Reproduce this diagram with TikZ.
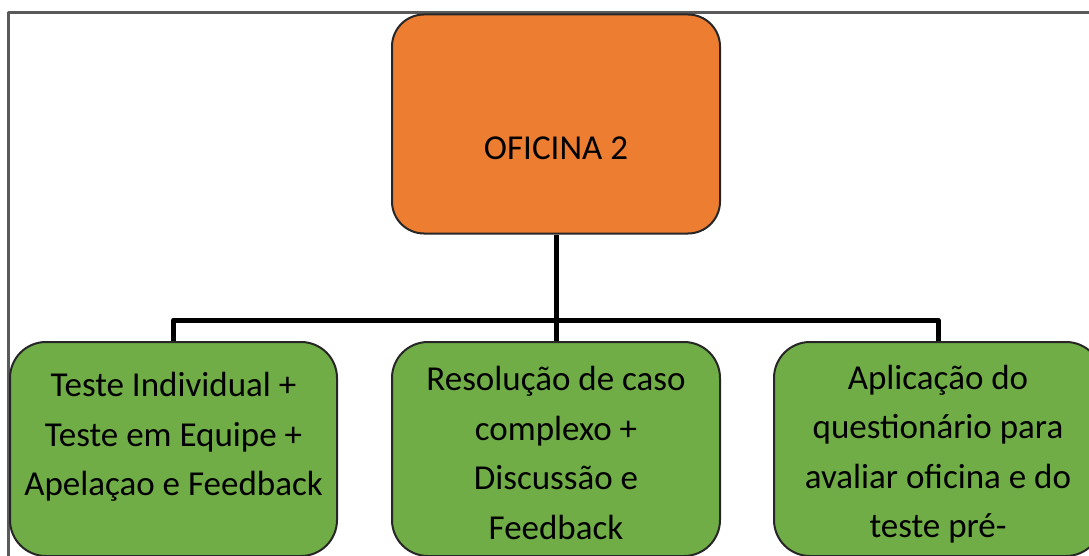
\documentclass[tikz,border=0pt]{standalone}
\usepackage{fontspec}
\setmainfont{Carlito}
\definecolor{oforange}{HTML}{ED7D31}
\definecolor{ofgreen}{HTML}{70AD47}
\definecolor{framegray}{HTML}{5A5A5A}
\begin{document}
\begin{tikzpicture}[x=1pt,y=-1pt, line join=round,
	obox/.style={draw=black!85, line width=2pt, fill=oforange, rounded corners=32pt, minimum width=328pt, minimum height=219pt, inner sep=0pt},
	gbox/.style={draw=black!85, line width=2pt, fill=ofgreen, rounded corners=36pt, minimum height=214pt, inner sep=0pt},
	gtext/.style={align=center, inner sep=0pt, font=\fontsize{35}{49.5}\selectfont},
	conn/.style={draw=black, line width=5pt}]
	\useasboundingbox (0,0) rectangle (1089,556);
	\clip (0,0) rectangle (1089,556);
	\draw[framegray, line width=3pt] (8,13) rectangle (1120,600);
	% top box
	\node[obox] (oficina) at (556,124) {};
	\node[font=\fontsize{35}{42}\selectfont] (oficinatxt) at (556,148) {OFICINA 2};
	% connectors
	\coordinate (bus) at (556,320);
	\draw[conn] (oficina.south) -- (bus);
	% bottom boxes
	\node[gbox, minimum width=327pt] (teste) at (173.5,449) {};
	\node[gbox, minimum width=328pt] (caso) at (556,449) {};
	\node[gbox, minimum width=328pt] (aplic) at (938,449) {};
	\node[gtext] (testetxt) at (173.5,437) {Teste Individual +\\Teste em Equipe +\\Apelaçao e Feedback};
	\node[gtext] (casotxt) at (556,453) {Resolução de caso\\complexo +\\Discussão e\\Feedback};
	\node[gtext] (aplictxt) at (938,454) {Aplicação do\\questionário para\\avaliar oficina e do\\teste pré-};
	\foreach \n in {teste,caso,aplic}
	{\draw[conn] (bus) -| (\n.north);}
\end{tikzpicture}
\end{document}
